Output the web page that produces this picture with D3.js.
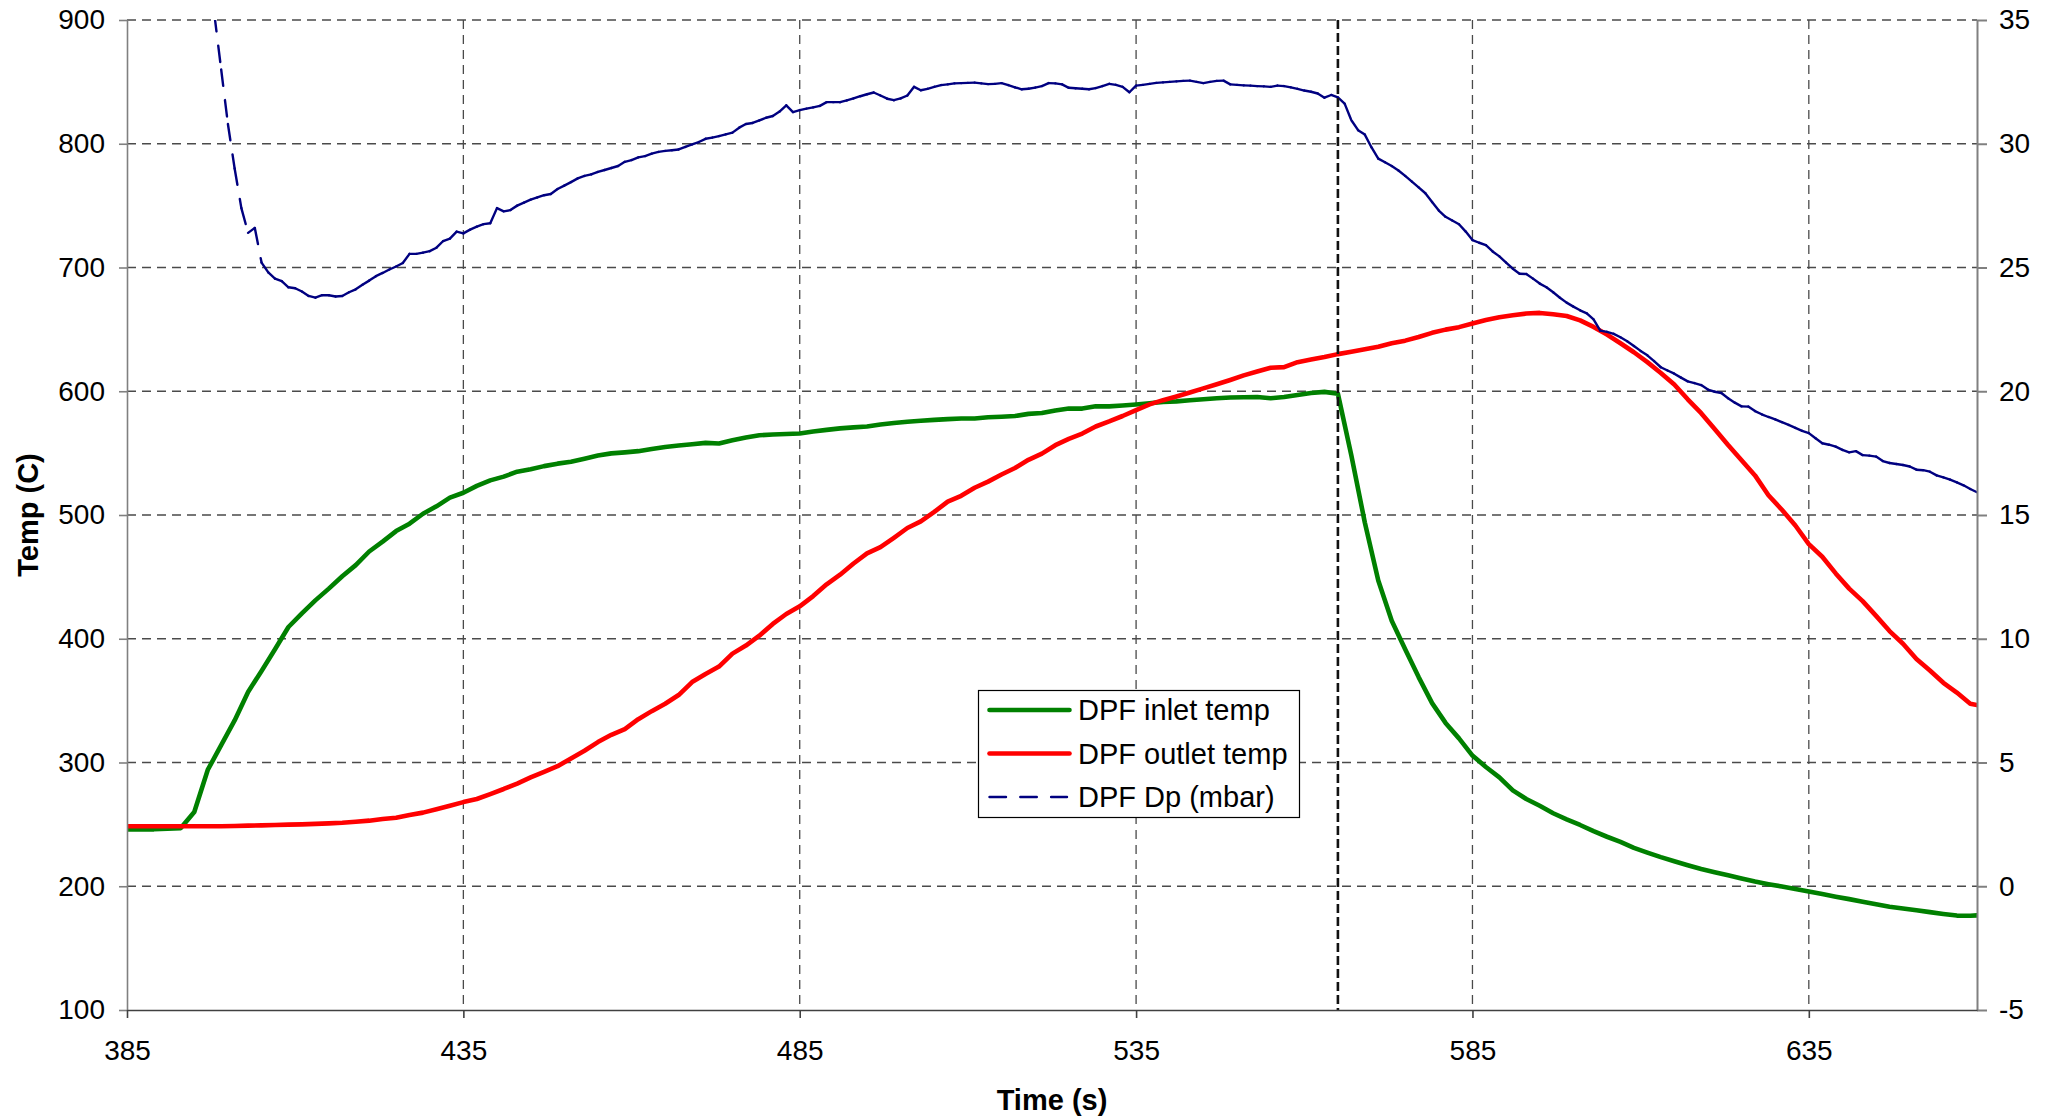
<!DOCTYPE html>
<html>
<head>
<meta charset="utf-8">
<script src="https://cdn.jsdelivr.net/npm/d3@7"></script>
<style>
  html, body { margin: 0; padding: 0; background: #fff; }
  svg { display: block; }
  text { font-family: "Liberation Sans", Arial, Helvetica, sans-serif; fill: #000; }
</style>
</head>
<body>
<svg id="chart" width="2055" height="1118"></svg>
<script>
// DPF regeneration run: inlet / outlet temperature (left axis, °C)
// and pressure drop across the filter (right axis, mbar).

// temperatures logged every 2 s
const tempTime = d3.range(385, 660, 2).concat([660]);

const inletTemp = [
  246, 246, 246, 246.5, 247, 260, 294, 314, 334, 357,                 // 385-403
  374, 391.5, 409.5, 420.5, 431, 440.5, 450.5, 459.5, 470.5, 478.5,   // 405-423
  487, 493, 501, 507, 514, 518, 523.5, 528, 531, 535,                 // 425-443
  537, 539.5, 541.5, 543, 545.5, 548, 549.8, 550.6, 551.6, 553.4,     // 445-463
  555, 556.1, 557.2, 558.3, 557.8, 560.4, 562.6, 564.4, 565.1, 565.5, // 465-483
  565.8, 567.5, 568.8, 570, 570.8, 571.5, 573.2, 574.4, 575.4, 576.2, // 485-503
  576.9, 577.5, 578, 578, 579, 579.4, 580, 581.7, 582.4, 584.5,       // 505-523
  586, 586, 587.8, 587.8, 588.5, 589.3, 590.3, 591.4, 591.8, 592.7,   // 525-543
  593.5, 594.3, 595, 595.2, 595.3, 594.4, 595.3, 597, 598.6, 599.5,   // 545-563
  598, 548, 494, 447, 414.5, 391.5, 369, 348, 332, 319.5,             // 565-583
  305.6, 296.4, 288, 277.5, 270.5, 265, 259, 254, 249.5, 244.5,       // 585-603
  240, 235.8, 231, 227.2, 223.5, 220.2, 217, 214, 211.4, 208.9,       // 605-623
  206.3, 203.8, 201.7, 199.8, 197.8, 195.7, 193.7, 191.6, 189.6, 187.4, // 625-643
  185.4, 183.4, 182, 180.6, 179.1, 177.6, 176.3, 176.2, 176.5         // 645-659, 660
];

const outletTemp = [
  248.5, 248.5, 248.5, 248.5, 248.5, 248.5, 248.5, 248.5, 248.7, 249, // 385-403
  249.2, 249.5, 249.8, 250, 250.4, 250.8, 251.3, 252.1, 253, 254.3,   // 405-423
  255.4, 257.6, 259.5, 262.2, 265.1, 268, 270.5, 274.5, 278.6, 283,   // 425-443
  288, 292.5, 297, 303.3, 309.5, 316.5, 322.4, 327, 335, 341.5,       // 445-463
  347.5, 354.5, 365, 371.5, 377.5, 388, 394.5, 402.5, 412, 420,       // 465-483
  426.2, 434.5, 444, 451.8, 460.8, 469, 474, 481.6, 489.5, 494.8,     // 485-503
  502.5, 510.8, 515.5, 522, 527, 532.7, 538, 544.6, 549.6, 556.4,     // 505-523
  561.5, 565.8, 571.5, 575.6, 580, 584.8, 589.4, 592.8, 595.8, 599,   // 525-543
  602.3, 605.6, 609.1, 612.8, 616, 619, 619.5, 623.5, 625.6, 627.6,   // 545-563
  630, 632, 634, 636, 638.8, 640.9, 643.8, 647.2, 649.8, 651.8,       // 565-583
  654.8, 657.5, 659.8, 661.4, 662.8, 663.3, 662.2, 660.8, 657.3, 652, // 585-603
  645.8, 638.8, 631.5, 623.5, 614.8, 605.4, 593.5, 582.3, 569.5, 556.6, // 605-623
  544.3, 532, 516, 504.2, 491.5, 476.5, 466.3, 452.8, 440.5, 430.4,   // 625-643
  418.5, 406.2, 396, 383.6, 374.3, 364.4, 356.5, 347.5, 346.4         // 645-659, 660
];

// pressure drop logged every second (readings before 397 s are above the scale)
const dpTime = d3.range(397, 661);

const dpMbar = [
  37.6, 35.2, 33.0, 30.8, 29.0, 27.4, 26.4, 26.6, 25.2, 24.8,         // 397-406
  24.55, 24.45, 24.2, 24.16, 24.03, 23.85, 23.78, 23.88, 23.88, 23.83, // 407-416
  23.85, 24.0, 24.12, 24.3, 24.47, 24.65, 24.78, 24.92, 25.04, 25.18, // 417-426
  25.55, 25.55, 25.6, 25.66, 25.8, 26.07, 26.17, 26.45, 26.38, 26.53, // 427-436
  26.65, 26.75, 26.79, 27.4, 27.27, 27.32, 27.5, 27.62, 27.74, 27.83, // 437-446
  27.92, 27.97, 28.17, 28.31, 28.45, 28.6, 28.7, 28.76, 28.86, 28.94, // 447-456
  29.02, 29.1, 29.27, 29.34, 29.45, 29.5, 29.6, 29.67, 29.71, 29.74,  // 457-466
  29.77, 29.87, 29.97, 30.07, 30.2, 30.25, 30.31, 30.38, 30.45, 30.65, // 467-476
  30.8, 30.84, 30.94, 31.05, 31.12, 31.3, 31.55, 31.28, 31.36, 31.42, // 477-486
  31.47, 31.53, 31.68, 31.68, 31.68, 31.75, 31.83, 31.92, 32.0, 32.07, // 487-496
  31.95, 31.82, 31.76, 31.83, 31.95, 32.3, 32.16, 32.22, 32.3, 32.37, // 497-506
  32.4, 32.44, 32.45, 32.46, 32.47, 32.44, 32.41, 32.42, 32.45, 32.37, // 507-516
  32.28, 32.2, 32.22, 32.27, 32.33, 32.45, 32.44, 32.4, 32.26, 32.24, // 517-526
  32.22, 32.2, 32.25, 32.33, 32.42, 32.38, 32.3, 32.08, 32.35, 32.38, // 527-536
  32.42, 32.46, 32.48, 32.5, 32.52, 32.54, 32.55, 32.5, 32.45, 32.5,  // 537-546
  32.54, 32.55, 32.4, 32.38, 32.36, 32.35, 32.33, 32.32, 32.3, 32.35, // 547-556
  32.33, 32.28, 32.22, 32.15, 32.1, 32.03, 31.86, 31.97, 31.87, 31.62, // 557-566
  30.95, 30.55, 30.37, 29.85, 29.4, 29.25, 29.1, 28.92, 28.7, 28.47,  // 567-576
  28.24, 28.0, 27.65, 27.3, 27.05, 26.9, 26.75, 26.45, 26.11, 26.0,   // 577-586
  25.9, 25.65, 25.45, 25.2, 24.95, 24.75, 24.74, 24.55, 24.35, 24.2,  // 587-596
  24.0, 23.78, 23.58, 23.42, 23.27, 23.15, 22.9, 22.45, 22.4, 22.32,  // 597-606
  22.18, 22.02, 21.83, 21.63, 21.45, 21.22, 20.97, 20.84, 20.71, 20.55, // 607-616
  20.4, 20.33, 20.25, 20.07, 19.98, 19.93, 19.72, 19.54, 19.39, 19.38, // 617-626
  19.2, 19.07, 18.96, 18.86, 18.75, 18.64, 18.52, 18.4, 18.31, 18.1,  // 627-636
  17.9, 17.84, 17.76, 17.63, 17.53, 17.58, 17.42, 17.4, 17.36, 17.18, // 637-646
  17.1, 17.06, 17.02, 16.96, 16.83, 16.81, 16.75, 16.6, 16.52, 16.43, // 647-656
  16.32, 16.2, 16.05, 15.92                                           // 657-660
];

// axes
const timeDomain = [385, 660];
const tempDomain = [100, 900];
const dpDomain = [-5, 35];
const timeTicks = [385, 435, 485, 535, 585, 635];
const tempTicks = [100, 200, 300, 400, 500, 600, 700, 800, 900];
const dpTicks = [-5, 0, 5, 10, 15, 20, 25, 30, 35];

// end of the regeneration event
const markerTime = [565];

const seriesNames = ["DPF inlet temp", "DPF outlet temp", "DPF Dp (mbar)"];
const seriesColors = ["#008000", "#ff0000", "#000080"];

// ---------------------------------------------------------------
const svg = d3.select("#chart");
const plot = { left: 127, right: 1977, top: 20, bottom: 1010 };

const x = d3.scaleLinear().domain(timeDomain).range([plot.left, plot.right]);
const yT = d3.scaleLinear().domain(tempDomain).range([plot.bottom, plot.top]);
const yP = d3.scaleLinear().domain(dpDomain).range([plot.bottom, plot.top]);

// plain ASCII hyphen for negatives
const plainNum = d => String(d);

svg.append("defs").append("clipPath").attr("id", "plotClip")
  .append("rect")
  .attr("x", plot.left).attr("y", plot.top)
  .attr("width", plot.right - plot.left).attr("height", plot.bottom - plot.top);

// grid
const grid = svg.append("g").attr("stroke", "#4a4a4a").attr("stroke-width", 1.3)
  .attr("stroke-dasharray", "9,6").attr("fill", "none");
grid.selectAll("line.h").data(tempTicks.filter(v => v !== tempDomain[0])).join("line")
  .attr("class", "h")
  .attr("x1", plot.left).attr("x2", plot.right)
  .attr("y1", d => yT(d)).attr("y2", d => yT(d));
grid.selectAll("line.v").data(timeTicks.filter(v => v !== timeDomain[0])).join("line")
  .attr("class", "v")
  .attr("x1", d => x(d)).attr("x2", d => x(d))
  .attr("y1", plot.top).attr("y2", plot.bottom);

// series
const series = svg.append("g").attr("clip-path", "url(#plotClip)");
const tempLine = vals => d3.line().x((d, i) => x(tempTime[i])).y(d => yT(d))(vals);

series.append("path").attr("d", tempLine(inletTemp))
  .attr("fill", "none").attr("stroke", seriesColors[0]).attr("stroke-width", 4.6)
  .attr("stroke-linejoin", "round").attr("stroke-linecap", "round");
series.append("path").attr("d", tempLine(outletTemp))
  .attr("fill", "none").attr("stroke", seriesColors[1]).attr("stroke-width", 4.6)
  .attr("stroke-linejoin", "round").attr("stroke-linecap", "round");

// pressure drop: each logged interval is stroked on its own, so the dash
// pattern restarts at every sample and only shows on long, steep steps
const dpPts = dpTime.map((t, i) => [x(t), yP(dpMbar[i])]);
series.append("g")
  .attr("stroke", seriesColors[2]).attr("stroke-width", 2.4)
  .attr("stroke-linecap", "round").attr("stroke-dasharray", "16.5,14.3")
  .selectAll("line").data(d3.pairs(dpPts)).join("line")
  .attr("x1", d => d[0][0]).attr("y1", d => d[0][1])
  .attr("x2", d => d[1][0]).attr("y2", d => d[1][1]);

// event marker
svg.append("g").selectAll("line").data(markerTime).join("line")
  .attr("x1", d => x(d)).attr("x2", d => x(d))
  .attr("y1", plot.top).attr("y2", plot.bottom)
  .attr("stroke", "#111").attr("stroke-width", 2.6).attr("stroke-dasharray", "9,4");

// axes
const tickFont = 28;
const labelFont = 29;
const styleAxis = (g, color, width) => {
  g.select(".domain").attr("stroke", color).attr("stroke-width", width);
  g.selectAll(".tick line").attr("stroke", color).attr("stroke-width", width);
  g.selectAll(".tick text").attr("font-size", tickFont)
    .attr("font-family", "'Liberation Sans', Arial, sans-serif").attr("fill", "#000");
};

svg.append("g").attr("transform", `translate(${plot.left},0)`)
  .call(d3.axisLeft(yT).tickValues(tempTicks).tickFormat(plainNum)
    .tickSize(8).tickSizeOuter(0).tickPadding(14))
  .call(g => styleAxis(g, "#808080", 1.6));

svg.append("g").attr("transform", `translate(${plot.right},0)`)
  .call(d3.axisRight(yP).tickValues(dpTicks).tickFormat(plainNum)
    .tickSize(10).tickSizeOuter(0).tickPadding(12))
  .call(g => styleAxis(g, "#808080", 2));

svg.append("g").attr("transform", `translate(0,${plot.bottom})`)
  .call(d3.axisBottom(x).tickValues(timeTicks).tickFormat(plainNum)
    .tickSize(8).tickSizeOuter(0).tickPadding(22))
  .call(g => styleAxis(g, "#404040", 1.6));

// axis titles
svg.append("text").text("Time (s)")
  .attr("x", (plot.left + plot.right) / 2).attr("y", 1110)
  .attr("text-anchor", "middle").attr("font-size", labelFont).attr("font-weight", "bold");
svg.append("text").text("Temp (C)")
  .attr("transform", `translate(38,${(plot.top + plot.bottom) / 2}) rotate(-90)`)
  .attr("text-anchor", "middle").attr("font-size", labelFont).attr("font-weight", "bold");

// legend
const legend = svg.append("g");
legend.append("rect")
  .attr("x", 978.5).attr("y", 690.5).attr("width", 321).attr("height", 127)
  .attr("fill", "#fff").attr("stroke", "#000").attr("stroke-width", 1.2);
const rowsY = [710, 753.5, 797];
seriesNames.forEach((name, i) => {
  const dashed = i === 2;
  legend.append("line")
    .attr("x1", 989.5).attr("x2", dashed ? 1067 : 1069.5)
    .attr("y1", rowsY[i]).attr("y2", rowsY[i])
    .attr("stroke", seriesColors[i]).attr("stroke-width", dashed ? 2.4 : 4.6)
    .attr("stroke-linecap", "round")
    .attr("stroke-dasharray", dashed ? "16.5,14.3" : null);
  legend.append("text").text(name)
    .attr("x", 1078).attr("y", rowsY[i]).attr("dy", "0.36em")
    .attr("font-size", labelFont);
});
</script>
</body>
</html>
